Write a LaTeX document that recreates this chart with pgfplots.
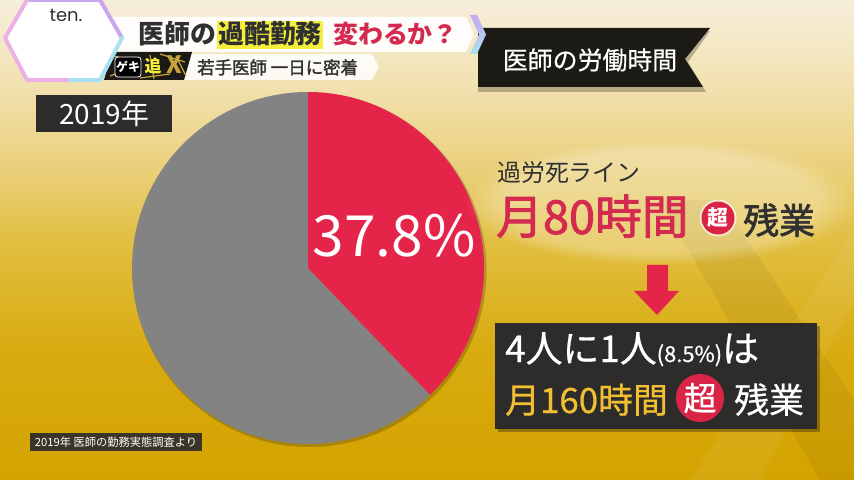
\documentclass[border=0pt]{standalone}
\usepackage{pgfplots}
\pgfplotsset{compat=1.18}
\usepackage{pgfplotstable}
\usetikzlibrary{fadings}
\usepackage{fontspec}
\setmainfont{Noto Sans CJK JP}
\newfontfamily\jpmed{Noto Sans CJK JP}[FakeBold=0.6]
\newfontfamily\jpsemi{Noto Sans CJK JP}[FakeBold=1.8]
\newfontfamily\poppins{Poppins}
\newcommand\fs[1]{\fontsize{#1}{#1}\selectfont}

\definecolor{bgA}{HTML}{D4A300}
\definecolor{bgB}{HTML}{D8AB10}
\definecolor{bgC}{HTML}{E1BD3C}
\definecolor{bgD}{HTML}{ECD488}
\definecolor{bgE}{HTML}{F3E6BE}
\definecolor{bgF}{HTML}{F6EEDA}
\definecolor{piered}{HTML}{E52449}
\definecolor{piegray}{HTML}{838383}
\definecolor{crimson}{HTML}{D42A4F}
\definecolor{lemon}{HTML}{F4EF3C}
\definecolor{darkbox}{HTML}{2D2C2A}
\definecolor{darktext}{HTML}{303030}
\definecolor{goldtext}{HTML}{F2BF32}
\definecolor{circred}{HTML}{DA2445}
\definecolor{hexviolet}{HTML}{C9A6EE}
\definecolor{hexpink}{HTML}{EBB0E6}
\definecolor{hexcyan}{HTML}{A8E2F2}
\definecolor{tagbg}{HTML}{1C1A14}
\definecolor{taggold}{HTML}{C9A23A}

\pgfdeclareverticalshading{bgshade}{100bp}{color(0bp)=(bgA); color(25bp)=(bgA); color(38.5bp)=(bgB); color(49bp)=(bgC); color(59.4bp)=(bgD); color(68.75bp)=(bgE); color(75bp)=(bgF); color(100bp)=(bgF)}

\pgfplotstableread{
label share
over80 37.8
other 62.2
}\piedata
\pgfplotstablegetelem{0}{share}\of\piedata \let\redshare\pgfplotsretval
\pgfplotstablegetelem{1}{share}\of\piedata \let\grayshare\pgfplotsretval
\pgfmathsetmacro\redend{90-3.6*\redshare}
\pgfmathsetmacro\grayend{90+3.6*\grayshare}

\begin{document}
\begin{tikzpicture}
\begin{axis}[width=854bp,height=480bp,scale only axis,
  xmin=0,xmax=854,ymin=-480,ymax=0,hide axis,clip=false]
% background
\shade[shading=bgshade] (0,0) rectangle (854,-480);
% faint X
\fill[black,opacity=0.05] (660,-200) -- (720,-200) -- (854,-400) -- (854,-480) -- (820,-480) -- cycle;
\fill[white,opacity=0.06] (854,-230) -- (854,-300) -- (760,-480) -- (690,-480) -- cycle;

% pie shadow
\fill[black,opacity=0.2] (309.5,-270) circle[radius=177bp];
% pie
\addplot[fill=piegray, draw=none] coordinates {(308,-268) (308,-92)} arc[start angle=90, end angle=\grayend, radius=176bp] -- cycle;
\addplot[fill=piered, draw=none] coordinates {(308,-268) (308,-92)} arc[start angle=90, end angle=\redend, radius=176bp] -- cycle;
\node[white,inner sep=0] at (394,-236) {\fs{57}\redshare\%};

% 2019 box
\fill[darkbox] (36,-95) rectangle (172,-132);
\node[white,inner sep=0] at (104,-113.5) {\fs{28}2019年};

% footnote
\fill[darkbox,opacity=0.92] (30,-433) rectangle (202,-451);
\node[white,inner sep=0] at (116,-442) {\fs{11.3}2019年 医師の勤務実態調査より};

% ribbon
\fill[black,opacity=0.25] (478,-31) -- (710,-31) -- (688,-62) -- (706,-92) -- (478,-92) -- cycle;
\fill[tagbg] (478,-28) -- (710,-28) -- (685,-59) -- (703,-87) -- (478,-87) -- cycle;
\node[white,inner sep=0] at (590,-60) {\jpmed\fs{25}医師の労働時間};

% title bar
\fill[white,opacity=0.93] (108,-17) -- (466,-17) -- (474,-34.5) -- (466,-52) -- (108,-52) -- cycle;
\shade[top color=hexviolet,bottom color=hexcyan] (470,-15) -- (477,-15) -- (486,-34.5) -- (477,-54) -- (470,-54) -- (479,-34.5) -- cycle;
\fill[lemon] (217,-21) rectangle (323,-49);
\node[darktext,anchor=base west,inner sep=0] at (138,-44) {\fs{26}\bfseries 医師の};
\node[darktext,anchor=base west,inner sep=0] at (218,-44) {\fs{26}\bfseries 過酷勤務};
\node[crimson,anchor=base west,inner sep=0] at (333,-44) {\fs{25}\bfseries 変わるか？};

% sub bar
\fill[white,opacity=0.85] (183,-54) -- (372,-54) -- (379,-67) -- (372,-80) -- (183,-80) -- cycle;
\fill[tagbg] (112,-52) -- (192,-52) -- (184,-80) -- (104,-80) -- cycle;
\draw[taggold,line width=1.2] (114,-56) -- (130,-60) (160,-54) -- (185,-62) (110,-76) -- (126,-70) (140,-78) -- (170,-74) (176,-56) -- (186,-76) (150,-55) -- (154,-79);
\fill[black,draw=white,line width=0.8,rounded corners=3] (115,-57) rectangle (141,-77);
\node[white,inner sep=0] at (128,-67) {\fs{12}\bfseries ゲキ};
\node[lemon,inner sep=0] at (153,-66) {\fs{17}\bfseries 追};
\node[taggold,inner sep=0] at (174,-65) {\fs{24}\bfseries X};
\node[darktext,anchor=base west,inner sep=0] at (197,-74) {\jpsemi\fs{17.5}若手医師 一日に密着};

% hexagon logo
\fill[white] (5,-38) -- (27,0) -- (100,0) -- (122,-38) -- (100,-80) -- (27,-80) -- cycle;
\draw[hexviolet,line width=4,line cap=round] (27,0) -- (100,0) -- (122,-38);
\draw[hexpink,line width=4,line cap=round,line join=round] (27,0) -- (5,-38) -- (27,-80) -- (70,-80);
\draw[hexcyan,line width=4,line cap=round,line join=round] (70,-80) -- (100,-80) -- (122,-38);
\node[darktext,inner sep=0] at (66,-15) {\poppins\fs{18}ten.};

% over-80 text with soft white glow
\fill[white,opacity=0.28,path fading=circle with fuzzy edge 20 percent] (465,-140) rectangle (855,-265);
\node[darktext,anchor=base west,inner sep=0] at (497,-181) {\fs{24}過労死ライン};
\node[crimson,anchor=base west,inner sep=0] at (496,-234) {\jpsemi\fs{47}月80時間};
\fill[white,opacity=0.6] (718,-218) circle[radius=18.5bp];
\fill[circred] (718,-218) circle[radius=16.5bp];
\node[white,inner sep=0] at (718,-218) {\fs{21}\bfseries 超};
\node[darktext,anchor=base west,inner sep=0] at (743,-234) {\jpsemi\fs{36}残業};

% arrow
\fill[piered] (647,-265) -- (668,-265) -- (668,-291) -- (679,-291) -- (657,-315) -- (634,-291) -- (647,-291) -- cycle;

% dark box
\fill[black,opacity=0.3] (498,-326) rectangle (820,-432);
\fill[darkbox] (495,-323) rectangle (817,-429);
\node[white,anchor=base west,inner sep=0] at (505,-362) {\jpmed\fs{37}4人に1人{\fs{22}(8.5\%)}は};
\node[goldtext,anchor=base west,inner sep=0] at (505,-413) {\jpmed\fs{35}月160時間};
\fill[circred] (700,-398) circle[radius=24bp];
\node[white,inner sep=0] at (700,-398) {\jpmed\fs{33}超};
\node[white,anchor=base west,inner sep=0] at (734,-413) {\jpmed\fs{35}残業};
\end{axis}
\pgfresetboundingbox
\path[use as bounding box] (0,0) rectangle (854bp,480bp);
\end{tikzpicture}
\end{document}
